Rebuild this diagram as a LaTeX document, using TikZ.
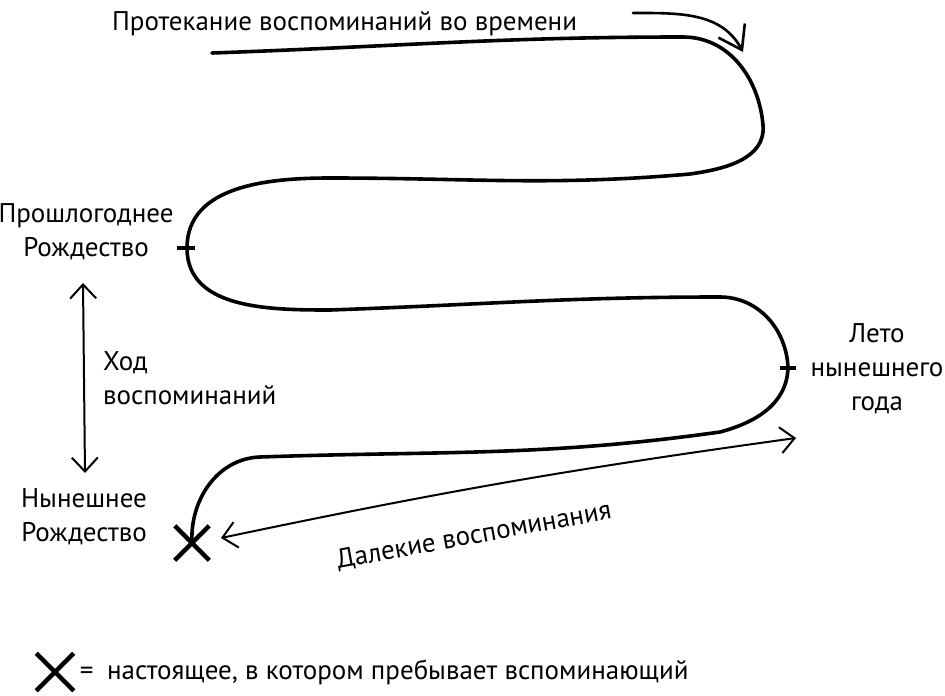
\documentclass[tikz,border=0pt]{standalone}
\usepackage{fontspec}
\setmainfont{PT Sans}
\usetikzlibrary{positioning}
\usetikzlibrary{arrows.meta, shapes.misc}

\begin{document}
\begin{tikzpicture}[x=1pt,y=1pt,
		txt/.style={font=\fontsize{27}{34}\selectfont, align=center, inner sep=0pt},
		flow/.style={line width=3.6pt, line cap=round, line join=round},
		tickmark/.style={line width=3.6pt},
		cross/.style={draw, cross out, minimum size=30pt, inner sep=0pt, line width=4.5pt},
		span/.style={line width=2pt, line cap=round, <->, >={Straight Barb[length=14pt, width=26pt]}},
		lead/.style={line width=2.6pt, line cap=round, -{Straight Barb[length=22pt, width=30pt]}}]
		\useasboundingbox (0,0) rectangle (945,-696);
		
		% labels
		\node[txt, anchor=west] (title) at (112,-24) {Протекание воспоминаний во времени};
		\node[txt] (lastxmas) at (86,-232) {Прошлогоднее\\Рождество};
		\node[txt, align=left, anchor=west] (course) at (103,-378) {Ход\\воспоминаний};
		\node[txt] (thisxmas) at (84,-517) {Нынешнее\\Рождество};
		\node[txt] (summer) at (877,-369) {Лето\\нынешнего\\года};
		\node[txt, rotate=10.4] (far) at (474,-536) {Далекие воспоминания};
		
		% points of the curve
		\coordinate (start) at (212,-53);
		\coordinate (top) at (683,-37);
		\coordinate (turn1) at (763,-125);
		\coordinate (back1) at (690,-174);
		\coordinate (mid1) at (330,-178);
		\coordinate (past) at (187,-248);
		\coordinate (mid2) at (330,-310);
		\coordinate (fore2) at (720,-297);
		\coordinate (summerpt) at (788,-368);
		\coordinate (back2) at (720,-432);
		\coordinate (mid3) at (260,-457);
		\node[cross] (now) at (192,-543) {};
		
		\draw[flow] (start) to[out=2,in=180] (top) to[out=0,in=95] (turn1)
			to[out=-85,in=8] (back1) to[out=185,in=0] (mid1)
			to[out=180,in=90] (past) to[out=-90,in=180] (mid2)
			to[out=2,in=180] (fore2) to[out=0,in=92] (summerpt)
			to[out=-92,in=15] (back2) to[out=188,in=2] (mid3)
			to[out=182,in=93] (now.center);
		
		\draw[tickmark] ([xshift=-10pt]past) -- ([xshift=8pt]past);
		\draw[tickmark] ([xshift=-8pt]summerpt) -- ([xshift=8pt]summerpt);
		
		% arrows
		\coordinate (tail) at (633,-13);
		\coordinate (entry) at (743,-52);
		\draw[lead] (tail) to[out=0,in=118] (entry);
		
		\coordinate (uptip) at (83,-283);
		\coordinate (downtip) at (85,-473);
		\draw[span] (uptip) -- (downtip);
		
		\coordinate (neartip) at (221,-538);
		\coordinate (fartip) at (796,-438);
		\draw[span] (neartip) to[bend left=2] (fartip);
		
		% legend
		\node[cross, minimum size=33pt] (key) at (55,-672) {};
		\node[txt, anchor=west, right=6pt of key] (keytext) {=\enspace настоящее, в котором пребывает вспоминающий};
	\end{tikzpicture}
\end{document}
